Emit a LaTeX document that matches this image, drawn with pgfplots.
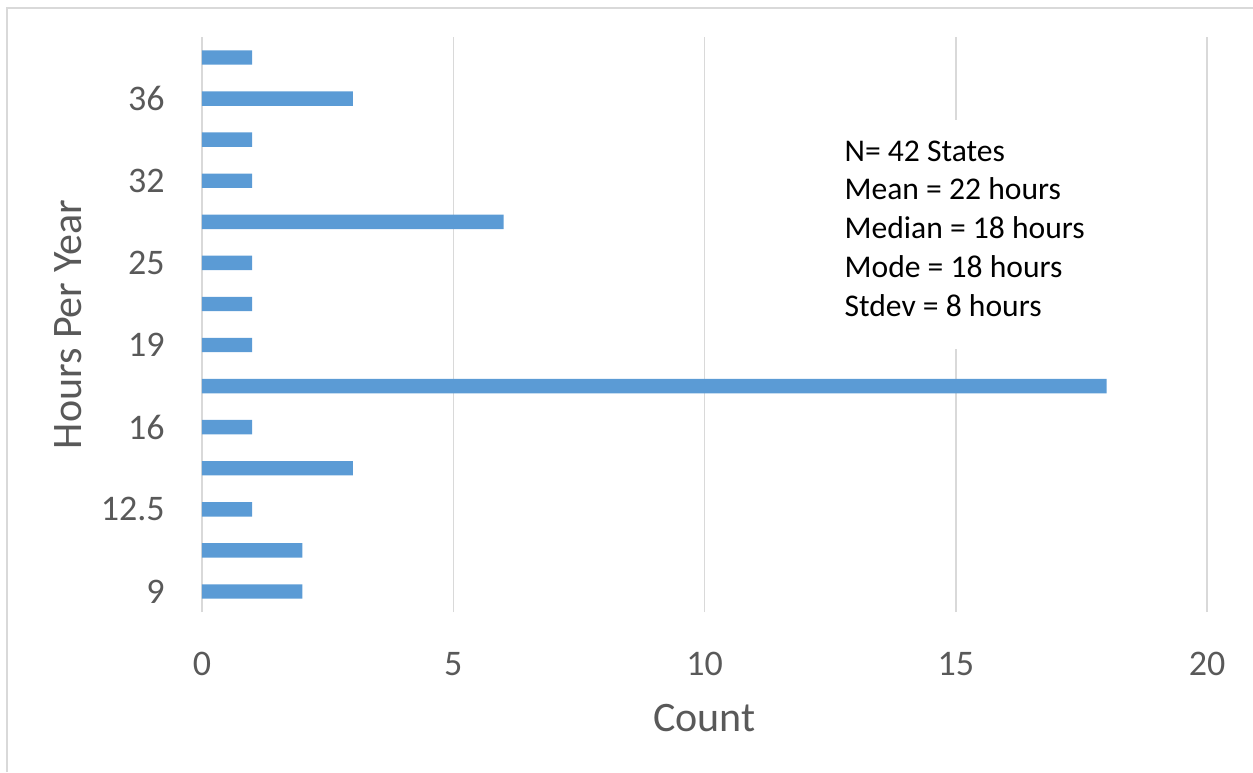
\documentclass[border=0pt]{standalone}
\usepackage{fontspec}
\setmainfont{Carlito}
\usepackage{pgfplots}
\pgfplotsset{compat=1.18}
\definecolor{barblue}{HTML}{5B9BD5}
\definecolor{gridgray}{HTML}{D9D9D9}
\definecolor{labelgray}{HTML}{595959}
\begin{document}
\begin{tikzpicture}
\useasboundingbox (-101pt,-80pt) rectangle (525.5pt,306pt);
\draw[gridgray, line width=0.75pt] (-97.5pt,-80pt) -- (-97.5pt,302pt) -- (525.5pt,302pt);
\begin{axis}[
  at={(0pt,0pt)}, anchor=south west,
  scale only axis,
  width=502.5pt, height=287.5pt,
  xbar,
  bar width=7.2pt,
  xmin=0, xmax=20,
  ymin=-0.5, ymax=13.5,
  xtick={0,5,10,15,20},
  ytick={0,1,2,3,4,5,6,7,8,9,10,11,12,13},
  yticklabels={9,,12.5,,16,,19,,25,,32,,36,},
  major tick length=0pt,
  axis line style={draw=none},
  xmajorgrids,
  grid style={gridgray, line width=0.75pt},
  /pgf/number format/assume math mode=true,
  tick label style={font=\fontsize{18}{18}\selectfont, text=labelgray},
  xticklabel style={inner sep=0pt, anchor=north, yshift=-19.75pt},
  yticklabel style={inner sep=0pt, anchor=east, xshift=-18.5pt},
  xlabel={Count},
  ylabel={Hours Per Year},
  label style={font=\fontsize{21}{21}\selectfont, text=labelgray},
  xlabel style={at={([yshift=-53pt]axis description cs:0.5,0)}, anchor=center},
  ylabel style={at={([xshift=-67pt]axis description cs:0,0.5)}, anchor=center},
  clip=false,
]
\addplot[fill=barblue, draw=none] coordinates {
  (2,0) (2,1) (1,2) (3,3) (1,4) (18,5) (1,6) (1,7) (1,8) (6,9) (1,10) (1,11) (3,12) (1,13)
};
\node[anchor=north west, fill=white, align=left, inner xsep=2pt, inner ysep=10.5pt,
      font=\fontsize{15.8}{19.4}\selectfont, text=black]
  at ([xshift=-2.5pt]axis cs:12.80,11.50)
  {N= 42 States\\Mean = 22 hours\\Median = 18 hours\\Mode = 18 hours\\Stdev = 8 hours\rule[-6pt]{0pt}{0pt}};
\end{axis}
\end{tikzpicture}
\end{document}
